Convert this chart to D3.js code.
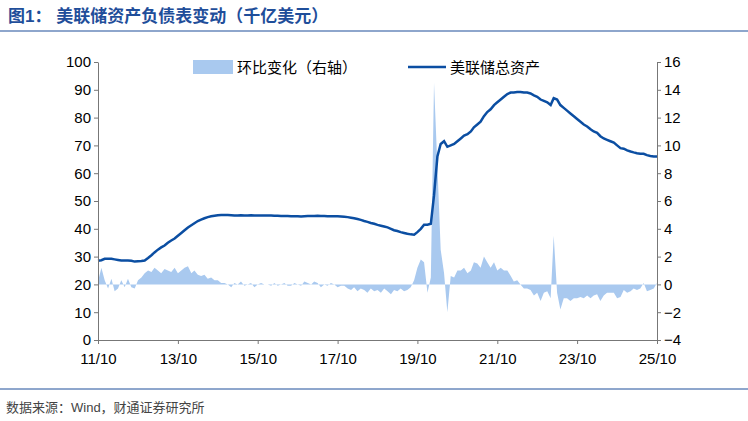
<!DOCTYPE html>
<html><head><meta charset="utf-8">
<script src="https://cdn.jsdelivr.net/npm/d3@7"></script>
<style>body{margin:0;background:#fff;font-family:"Liberation Sans",Arial,"Noto Sans CJK SC",sans-serif}</style>
</head><body><svg id="c" width="748" height="421"></svg>
<script>
// monthly, 2011-10 .. 2025-10 (千亿美元)
const start = new Date(2011, 9, 1);
const assets = [28.5,28.7,29.2,
 29.2,29.2,29.0,28.8,28.6,28.6,28.6,28.5,28.2,28.3,28.4,28.6,
 29.5,30.5,31.5,32.5,33.3,34,35,35.8,36.5,37.5,38.5,39.5,
 40.5,41.3,42,42.8,43.3,43.8,44.2,44.5,44.7,44.9,45,45,
 45,44.9,44.8,44.8,44.9,44.8,44.8,44.9,44.8,44.8,44.8,44.8,
 44.8,44.8,44.7,44.7,44.6,44.6,44.6,44.5,44.5,44.5,44.4,44.5,
 44.6,44.6,44.6,44.7,44.6,44.6,44.5,44.5,44.5,44.5,44.4,44.3,
 44.2,44,43.8,43.5,43.2,42.8,42.5,42.1,41.8,41.4,41.1,40.8,
 40.5,40,39.5,39.2,38.8,38.5,38.2,38,37.9,38.8,40,41.5,
 41.5,41.8,52,66,70.5,71.5,69.5,70,70.5,71.5,72.5,73.5,
 74,75,76.5,77.5,78.5,80.5,82,83,84.5,85.5,86.5,87.5,
 88.5,89,89,89.2,89.2,89,89,88.7,88,87.5,86.5,86,
 85.5,84.5,87,86.5,84.5,83.5,82.5,81.5,80.5,79.5,78.5,77.5,
 76.8,75.8,75,74.5,73.3,72.5,72,71.5,71,70,69,68.8,
 68.2,67.8,67.5,67.2,67,67,66.5,66.2,66,66];
const changes = [0.2,1.2,0.3,
 -0.3,0.4,-0.5,-0.3,0.3,-0.2,0.4,-0.2,-0.3,0.3,0.5,0.8,
 1.0,0.9,1.2,1.0,0.8,1.1,1.0,0.9,1.2,0.8,1.0,1.2,
 1.3,0.8,1.0,0.7,0.6,0.7,0.4,0.5,0.3,0.3,0.1,0.1,
 0.0,-0.2,0.1,0.0,0.2,-0.1,0.0,0.1,-0.2,0.0,0.1,0.0,
 0.0,-0.1,0.1,-0.1,0.0,0.1,-0.1,-0.1,0.1,0.0,-0.1,0.2,
 0.1,0.0,0.2,0.1,-0.2,0.0,-0.1,0.1,0.0,-0.2,-0.1,-0.1,
 -0.3,-0.4,-0.2,-0.5,-0.3,-0.4,-0.6,-0.3,-0.5,-0.4,-0.6,-0.3,
 -0.5,-0.7,-0.4,-0.5,-0.3,-0.5,-0.4,-0.2,0.3,1.2,1.8,1.6,
 -0.6,0.5,14.5,8.5,2.5,0.8,-2,0.6,0.5,1.0,1.0,1.2,
 0.8,1.0,1.6,1.5,1.2,2.0,1.6,1.2,1.6,1.0,1.2,1.0,
 1.0,0.6,0.2,0.3,0.0,-0.3,-0.3,-0.4,-0.8,-0.6,-1.2,-0.6,
 -0.5,-1.0,3.5,-0.6,-1.8,-1.0,-1.0,-1.2,-1.0,-1.0,-0.9,-1.0,
 -0.8,-1.0,-0.8,-0.7,-1.2,-0.8,-0.6,-0.6,-0.6,-1.0,-0.9,-0.4,
 -0.6,-0.5,-0.3,-0.4,-0.3,0.1,-0.5,-0.4,-0.3,0.1];
const xTicks = ["11/10","13/10","15/10","17/10","19/10","21/10","23/10","25/10"];
const leftTicks = [0,10,20,30,40,50,60,70,80,90,100];
const rightTicks = [-4,-2,0,2,4,6,8,10,12,14,16];

const svg = d3.select("#c");
const L = 98, R = 657, T = 62, B = 340;
const dates = assets.map((v,i) => new Date(2011, 9 + i, 1));
const x = d3.scaleTime().domain([start, dates[dates.length-1]]).range([L, R]);
const yL = d3.scaleLinear().domain([0,100]).range([B, T]);
const yR = d3.scaleLinear().domain([-4,16]).range([B, T]);

// title
svg.append("text").attr("x",8).attr("y",22).attr("fill","#1f4e9a")
  .attr("font-size",17).attr("font-weight","bold").text("图1：  美联储资产负债表变动（千亿美元）");
svg.append("line").attr("x1",0).attr("x2",748).attr("y1",31).attr("y2",31).attr("stroke","#1f4e9a").attr("stroke-width",1.2);
svg.append("line").attr("x1",0).attr("x2",748).attr("y1",389).attr("y2",389).attr("stroke","#1f4e9a").attr("stroke-width",1);
svg.append("text").attr("x",6).attr("y",412).attr("fill","#444").attr("font-size",13).text("数据来源：Wind，财通证券研究所");

// change area
svg.append("path").datum(changes)
  .attr("d", d3.area().x((d,i)=>x(dates[i])).y0(yR(0)).y1(d=>yR(d)))
  .attr("fill","#a9c9ef");

svg.append("path").datum(assets)
  .attr("d", d3.line().x((d,i)=>x(dates[i])).y(d=>yL(d)))
  .attr("fill","none").attr("stroke","#0b4ea2").attr("stroke-width",2.5);

// axes
const ax = svg.append("g").attr("font-size",14).attr("fill","#000");
const gL = svg.append("g").attr("transform",`translate(${L},0)`)
  .call(d3.axisLeft(yL).tickValues(leftTicks).tickSize(4).tickSizeOuter(0));
const gR = svg.append("g").attr("transform",`translate(${R},0)`)
  .call(d3.axisRight(yR).tickValues(rightTicks).tickSize(4).tickSizeOuter(0));
const xt = xTicks.map((s,i)=>new Date(2011 + 2*i, 9, 1));
const gX = svg.append("g").attr("transform",`translate(0,${B})`)
  .call(d3.axisBottom(x).tickValues(xt).tickFormat((d,i)=>xTicks[i]).tickSize(4).tickSizeOuter(0));
[gL,gR,gX].forEach(g=>{
  g.selectAll("text").attr("font-size",15).attr("fill","#000").attr("font-family","Liberation Sans,Arial");
  g.selectAll("line,path").attr("stroke","#777");
});
gX.selectAll("text").attr("dy","1.1em");

// legend
const lg = svg.append("g").attr("font-size",15).attr("fill","#000");
lg.append("rect").attr("x",193).attr("y",60).attr("width",40).attr("height",14).attr("fill","#a9c9ef");
lg.append("text").attr("x",237).attr("y",73).text("环比变化（右轴）");
lg.append("line").attr("x1",408).attr("x2",446).attr("y1",67).attr("y2",67).attr("stroke","#0b4ea2").attr("stroke-width",2.5);
lg.append("text").attr("x",450).attr("y",73).text("美联储总资产");
</script></body></html>
